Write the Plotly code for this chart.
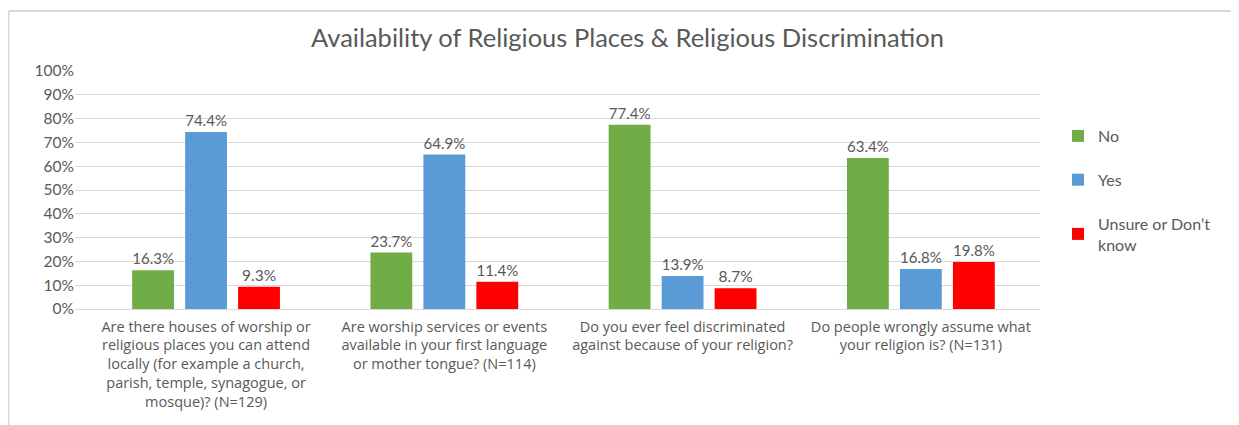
import plotly.graph_objects as go

categories = [
    "Are there houses of worship or<br>religious places you can attend<br>locally (for example a church,<br>parish, temple, synagogue, or<br>mosque)? (N=129)",
    "Are worship services or events<br>available in your first language<br>or mother tongue? (N=114)",
    "Do you ever feel discriminated<br>against because of your religion?",
    "Do people wrongly assume what<br>your religion is? (N=131)",
]
series_names = ["No", "Yes", "Unsure or Don’t<br>know"]
no_vals = [16.3, 23.7, 77.4, 63.4]
yes_vals = [74.4, 64.9, 13.9, 16.8]
unsure_vals = [9.3, 11.4, 8.7, 19.8]
colors = ["#70AD47", "#5B9BD5", "#FF0000"]
y_ticks = [0, 10, 20, 30, 40, 50, 60, 70, 80, 90, 100]

font_family = "Lato, 'Open Sans', sans-serif"
grey = "#595959"

fig = go.Figure()
for i, (name, vals) in enumerate(zip(series_names, [no_vals, yes_vals, unsure_vals])):
    fig.add_trace(go.Bar(
        x=categories, y=vals, name=name,
        marker=dict(color=colors[i], line=dict(width=0)),
        text=[f"{v:.1f}%" for v in vals],
        textposition="outside",
        textfont=dict(size=15.5, color=grey, family=font_family),
        cliponaxis=False,
        legendgroup=f"g{i}",
    ))

L, R, T, B = 67, 207, 63, 124
PW = 1239 - L - R
PH = 425 - T - B

fig.update_layout(
    width=1239, height=425,
    margin=dict(l=L, r=R, t=T, b=B),
    paper_bgcolor="white", plot_bgcolor="white",
    barmode="group", bargap=0.333, bargroupgap=0.21,
    title=dict(text="Availability of Religious Places & Religious Discrimination",
               x=0.5, xref="container", xanchor="center", y=1 - 30 / 425, yanchor="middle",
               font=dict(size=25.5, color=grey, family=font_family)),
    font=dict(family=font_family, color=grey, size=15),
    xaxis=dict(range=[-0.55, 3.5], showgrid=False, showline=False, ticks="",
               tickfont=dict(size=14.5, color=grey, family="'Open Sans', sans-serif"),
               tickangle=0, ticklabelstandoff=7),
    yaxis=dict(range=[0, 100], tickvals=y_ticks, ticktext=[f"{t}%" for t in y_ticks],
               showgrid=True, gridcolor="#D9D9D9", gridwidth=1,
               zeroline=True, zerolinecolor="#D9D9D9", zerolinewidth=1,
               showline=False, ticks="", tickfont=dict(size=15.5, color=grey)),
    legend=dict(x=(1058 - 8 - L) / PW, xanchor="left", y=1 - (111 - T) / PH, yanchor="top",
                font=dict(size=16, color=grey), tracegroupgap=20,
                traceorder="grouped", itemwidth=30),
    shapes=[
        dict(type="line", xref="paper", yref="paper",
             x0=(0.5 - L) / PW, x1=(1240 - L) / PW, y0=1 + (T - 3) / PH, y1=1 + (T - 3) / PH,
             line=dict(color="#D9D9D9", width=2), layer="below"),
        dict(type="line", xref="paper", yref="paper",
             x0=(0.5 - L) / PW, x1=(0.5 - L) / PW, y0=1 + (T - 3) / PH, y1=-B / PH,
             line=dict(color="#D9D9D9", width=2), layer="below"),
    ],
)

fig.write_html("out.html")
